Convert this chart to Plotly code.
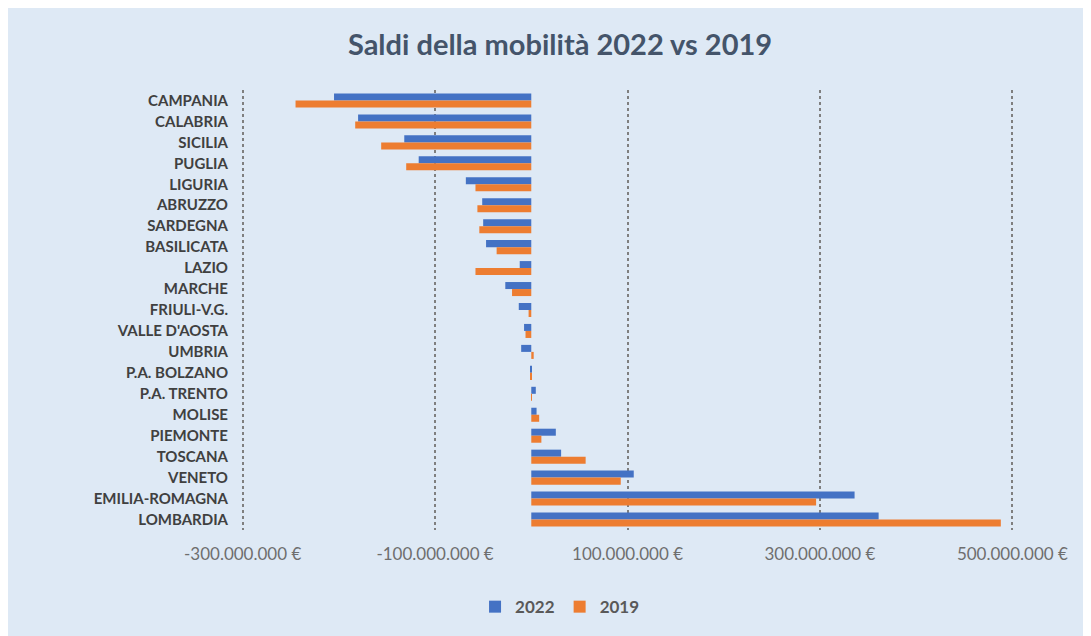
import plotly.graph_objects as go

regions = ["CAMPANIA", "CALABRIA", "SICILIA", "PUGLIA", "LIGURIA", "ABRUZZO", "SARDEGNA",
           "BASILICATA", "LAZIO", "MARCHE", "FRIULI-V.G.", "VALLE D'AOSTA", "UMBRIA",
           "P.A. BOLZANO", "P.A. TRENTO", "MOLISE", "PIEMONTE", "TOSCANA", "VENETO",
           "EMILIA-ROMAGNA", "LOMBARDIA"]

saldi_2022 = [-205e6, -180e6, -132e6, -117e6, -68e6, -51e6, -50e6, -47e6, -12e6, -27e6,
              -13e6, -7.5e6, -10.5e6, -1.2e6, 4.7e6, 5.5e6, 25.5e6, 31e6, 106.5e6, 336e6, 361e6]
saldi_2019 = [-245e6, -183e6, -156e6, -130e6, -58e6, -56e6, -54e6, -36e6, -58e6, -20e6,
              -2.8e6, -6e6, 2.5e6, -1.2e6, 0.5e6, 8.2e6, 10.5e6, 56.5e6, 93e6, 296e6, 488e6]

tick_vals = [-300e6, -100e6, 100e6, 300e6, 500e6]


def fmt_eur(v):
    s = f"{abs(int(v)):,}".replace(",", ".")
    return ("-" if v < 0 else "") + s + " €"


tick_text = [fmt_eur(v) for v in tick_vals]

BLUE = "#4472C4"
ORANGE = "#ED7D31"
BG = "#DEE9F5"

fig = go.Figure()
fig.add_trace(go.Bar(y=regions, x=saldi_2022, name="2022", orientation="h",
                     marker=dict(color=BLUE, line=dict(width=0))))
fig.add_trace(go.Bar(y=regions, x=saldi_2019, name="2019", orientation="h",
                     marker=dict(color=ORANGE, line=dict(width=0))))

fig.update_layout(
    width=1091, height=636,
    paper_bgcolor=BG, plot_bgcolor=BG,
    margin=dict(l=225, r=77, t=82, b=114),
    barmode="group", bargap=0.33, bargroupgap=0,
    title=dict(text="<b>Saldi della mobilità 2022 vs 2019</b>",
               font=dict(family="Lato", size=29, color="#44546A"),
               x=0.506, xanchor="center", xref="container",
               y=0.942, yanchor="middle", yref="container"),
    font=dict(family="Lato"),
    showlegend=True,
    legend=dict(orientation="h", x=0.506, xanchor="center", xref="container",
                y=0.058, yanchor="middle", yref="container",
                font=dict(family="Lato", size=17, color="#595959", weight="bold"),
                itemwidth=30, itemsizing="constant", bgcolor="rgba(0,0,0,0)"),
    xaxis=dict(range=[-310e6, 510e6], tickvals=tick_vals, ticktext=tick_text,
               showgrid=True, gridcolor="#7F7F7F", griddash="dot", gridwidth=1.5,
               zeroline=False, showline=False, ticks="", ticklabelstandoff=12,
               tickfont=dict(family="Lato", size=17, color="#6E6E6E")),
    yaxis=dict(autorange="reversed", showgrid=False, showline=False, ticks="",
               ticklabelstandoff=4,
               tickfont=dict(family="Lato", size=15, color="#404040", weight="bold")),
)

fig.write_html("out.html")
